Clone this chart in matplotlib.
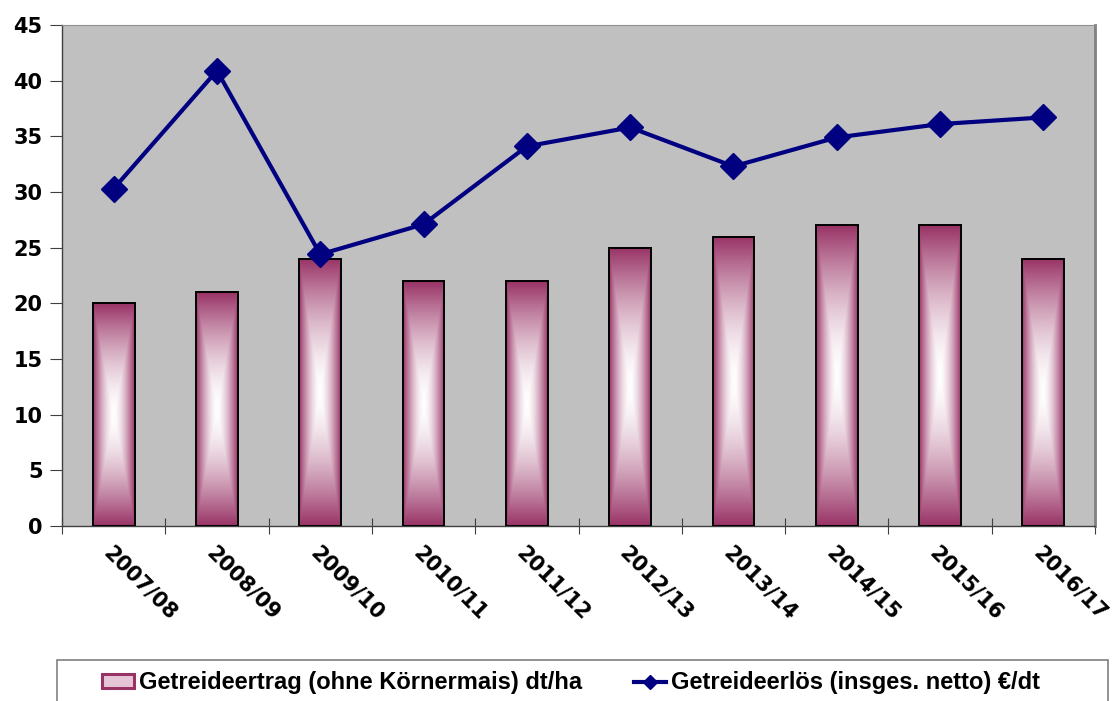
import numpy as np
import matplotlib
matplotlib.use("Agg")
from matplotlib import pyplot as plt
from matplotlib.patches import Rectangle
from matplotlib.lines import Line2D
from matplotlib.colors import to_rgb

# data
seasons = ["2007/08", "2008/09", "2009/10", "2010/11", "2011/12",
           "2012/13", "2013/14", "2014/15", "2015/16", "2016/17"]
ertrag = [20, 21, 24, 22, 22, 25, 26, 27, 27, 24]          # dt/ha
erloes = [30.3, 40.9, 24.4, 27.1, 34.1, 35.8, 32.3, 34.9, 36.1, 36.7]  # €/dt

bar_label = "Getreideertrag (ohne Körnermais) dt/ha"
line_label = "Getreideerlös (insges. netto) €/dt"

maroon = "#993366"
navy = "#000080"

fig = plt.figure(figsize=(11.15, 7.01), dpi=100)
ax = fig.add_axes([62 / 1115, 1 - 526 / 701, (1095 - 62) / 1115, (526 - 25) / 701])
ax.set_facecolor("#c0c0c0")

x = np.arange(len(seasons))
bars = ax.bar(x, ertrag, width=0.405, facecolor="none", edgecolor="black",
              linewidth=1.4, zorder=3)

# "from centre" gradient: white in the middle, maroon at the edges
n = 200
u = np.linspace(-1, 1, n)
uu, vv = np.meshgrid(u, u)
t = np.maximum(np.abs(uu), np.abs(vv)) ** 1.6
c0 = np.array(to_rgb(maroon))
img = (1 - t[..., None]) * np.ones(3) + t[..., None] * c0
for b in bars:
    x0, y0 = b.get_x(), b.get_y()
    ax.imshow(img, extent=(x0, x0 + b.get_width(), y0, y0 + b.get_height()),
              aspect="auto", zorder=2, interpolation="bilinear")

ax.plot(x, erloes, color=navy, linewidth=3.0, marker="D", markersize=13,
        markeredgecolor=navy, zorder=4)

ax.set_xlim(-0.5, len(seasons) - 0.5)
ax.set_ylim(0, 45)
ax.set_yticks(np.arange(0, 46, 5))
ax.set_xticks(x)
ax.set_xticks(np.arange(-0.5, len(seasons)), minor=True)
ax.tick_params(axis="x", which="major", length=0, pad=12)
ax.tick_params(axis="x", which="minor", direction="inout", length=12,
               width=0.8, color="#404040")
ax.tick_params(axis="y", direction="out", length=9, width=0.8, color="#404040",
               pad=5)
ax.set_xticklabels(seasons, rotation=-45, ha="left", va="top",
                   rotation_mode="anchor", fontsize=15, fontweight="bold",
                   family="DejaVu Sans")
for lab in ax.get_yticklabels():
    lab.set_fontsize(15)
    lab.set_fontweight("bold")
    lab.set_family("DejaVu Sans")

for s in ["left", "bottom"]:
    ax.spines[s].set_color("#404040")
    ax.spines[s].set_linewidth(1.0)
ax.spines["top"].set_color("#909090")
ax.spines["top"].set_linewidth(0.8)
ax.spines["right"].set_color("#808080")
ax.spines["right"].set_linewidth(2.0)

# legend box at the bottom
fig.patches.append(Rectangle((57 / 1115, -0.05), (1108 - 57) / 1115,
                             0.05 + 1 - 660 / 701, transform=fig.transFigure,
                             facecolor="white", edgecolor="#808080",
                             linewidth=1.2, zorder=0))
handles = [Rectangle((0, 0), 1, 1, facecolor="#e6c6d6", edgecolor=maroon,
                     linewidth=2.2),
           Line2D([], [], color=navy, linewidth=3.0, marker="D", markersize=7)]
fig.legend(handles, [bar_label, line_label], loc="center",
           bbox_to_anchor=(0.512, 1 - 683 / 701), ncol=2, frameon=False,
           prop={"family": "Liberation Sans", "weight": "bold", "size": 17},
           handlelength=1.35, handleheight=0.5, handletextpad=0.2,
           columnspacing=2.2)

fig.savefig("out.png", dpi=100)
